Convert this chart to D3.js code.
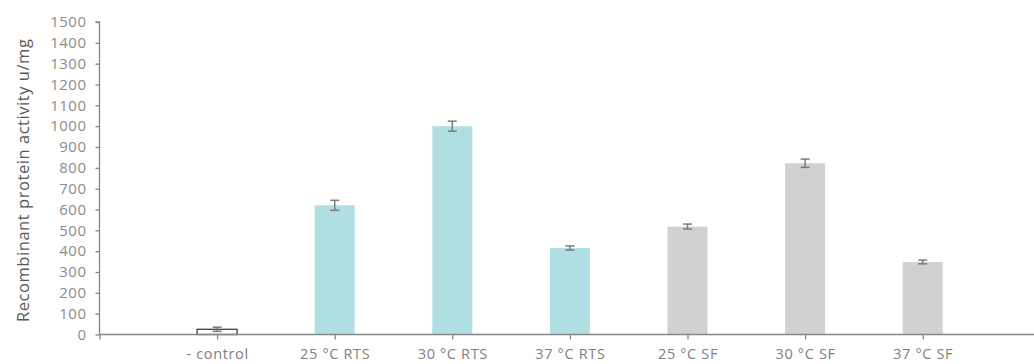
<!DOCTYPE html>
<html>
<head>
<meta charset="utf-8">
<script src="https://cdn.jsdelivr.net/npm/d3@7/dist/d3.min.js"></script>
<style>
  html, body { margin: 0; padding: 0; background: #fff; }
  svg { display: block; }
  text { font-family: "Open Sans", "Noto Sans", sans-serif; }
</style>
</head>
<body>
<script>
const categories = ["- control", "25 °C RTS", "30 °C RTS", "37 °C RTS", "25 °C SF", "30 °C SF", "37 °C SF"];
const values = [25, 620, 1000, 415, 518, 822, 348];
const errors = [10, 24, 24, 10, 12, 20, 9];
const groups = ["control", "RTS", "RTS", "RTS", "SF", "SF", "SF"];
const yTicks = [0, 100, 200, 300, 400, 500, 600, 700, 800, 900, 1000, 1100, 1200, 1300, 1400, 1500];
const yLabel = "Recombinant protein activity u/mg";

const W = 1034, H = 364;
const x0 = 99.5, y0 = 334.5, yTop = 22;
const step = 117.6;

const svg = d3.select("body").append("svg").attr("width", W).attr("height", H);

const x = d3.scalePoint().domain(["", ...categories]).range([x0, x0 + step * categories.length]);
const y = d3.scaleLinear().domain([0, 1500]).range([y0, yTop]);

const fill = { control: "#ffffff", RTS: "#b0dfe3", SF: "#d0d1d3" };
const stroke = { control: "#404040", RTS: "none", SF: "none" };
const barW = 40;

// bars
svg.append("g").selectAll("rect").data(categories).join("rect")
  .attr("x", (d) => x(d) - barW / 2)
  .attr("y", (d, i) => y(values[i]))
  .attr("width", barW)
  .attr("height", (d, i) => y0 - y(values[i]))
  .attr("fill", (d, i) => fill[groups[i]])
  .attr("stroke", (d, i) => stroke[groups[i]])
  .attr("stroke-width", 1.3);

// error bars
const eb = svg.append("g").attr("stroke", "#7a7a7a").attr("stroke-width", 1.5);
categories.forEach((c, i) => {
  const cx = x(c);
  const top = y(values[i] + errors[i]);
  const bot = y(values[i] - errors[i]);
  eb.append("line").attr("x1", cx).attr("x2", cx).attr("y1", top).attr("y2", bot);
  eb.append("line").attr("x1", cx - 4.5).attr("x2", cx + 4.5).attr("y1", top).attr("y2", top);
  eb.append("line").attr("x1", cx - 4.5).attr("x2", cx + 4.5).attr("y1", bot).attr("y2", bot);
});

// y axis
const yAxis = d3.axisLeft(y).tickValues(yTicks).tickSize(4).tickPadding(9).tickFormat(d3.format("d"));
const gy = svg.append("g").attr("transform", `translate(${x0},0)`).call(yAxis);
gy.select(".domain").attr("stroke", "#868686").attr("stroke-width", 1.3).attr("d", `M-4,${yTop}H0V${y0}`);
gy.selectAll(".tick line").attr("stroke", "#868686").attr("stroke-width", 1.3);
gy.selectAll(".tick text").attr("fill", "#8c8c8c").attr("font-size", 15).attr("letter-spacing", 0.5);

// x axis
const xAxis = d3.axisBottom(x).tickSize(5).tickPadding(9);
const gx = svg.append("g").attr("transform", `translate(0,${y0})`).call(xAxis);
gx.select(".domain").attr("stroke", "#868686").attr("stroke-width", 1.3).attr("d", `M${x0},0H${W}`);
gx.selectAll(".tick line").attr("stroke", "#868686").attr("stroke-width", 1.3);
gx.selectAll(".tick text").attr("fill", "#7f7f7f").attr("font-size", 14.5).attr("letter-spacing", 0.65);

// y label
svg.append("text")
  .attr("transform", `translate(29,${(y0 + yTop) / 2 + 2}) rotate(-90)`)
  .attr("text-anchor", "middle")
  .attr("fill", "#595959")
  .attr("font-size", 16.5)
  .attr("letter-spacing", 0.55)
  .text(yLabel);
</script>
</body>
</html>
